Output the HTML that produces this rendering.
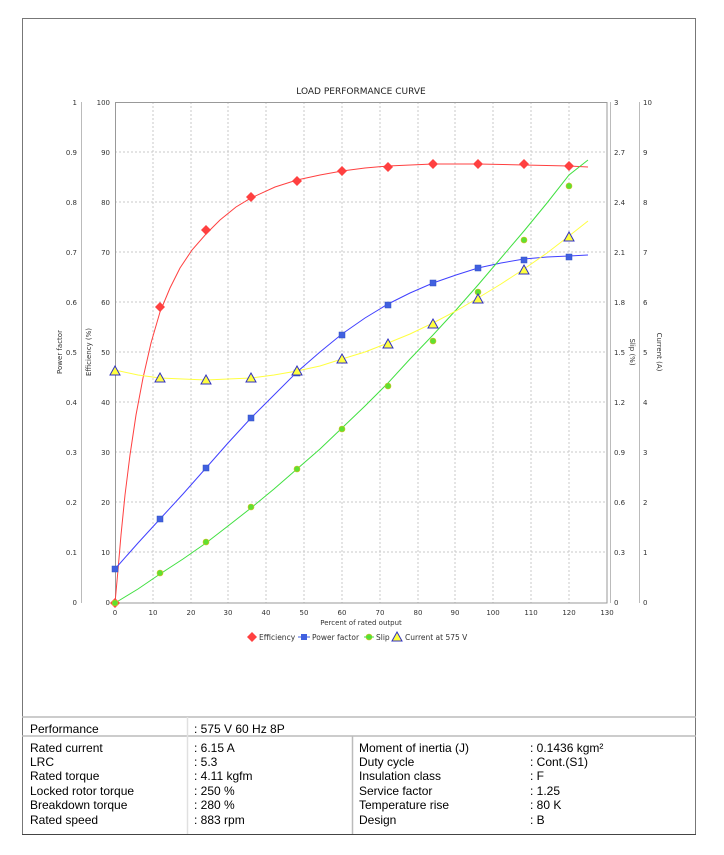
<!DOCTYPE html>
<html><head><meta charset="utf-8"><style>
body{margin:0;background:#fff;}
svg{display:block;font-family:"Liberation Sans","DejaVu Sans",sans-serif;}
</style></head><body>
<svg width="724" height="855" viewBox="0 0 724 855" xmlns="http://www.w3.org/2000/svg">
<rect x="22.5" y="18.5" width="673" height="816" fill="none" stroke="#777" stroke-width="1"/>
<text x="361" y="94" font-size="9" text-anchor="middle" font-family="DejaVu Sans,sans-serif" fill="#222">LOAD PERFORMANCE CURVE</text>
<g stroke="#c8c8c8" stroke-dasharray="2,2" stroke-width="1">
<line x1="153" y1="102" x2="153" y2="603"/><line x1="191" y1="102" x2="191" y2="603"/><line x1="228" y1="102" x2="228" y2="603"/><line x1="266" y1="102" x2="266" y2="603"/><line x1="304" y1="102" x2="304" y2="603"/><line x1="342" y1="102" x2="342" y2="603"/><line x1="380" y1="102" x2="380" y2="603"/><line x1="418" y1="102" x2="418" y2="603"/><line x1="455" y1="102" x2="455" y2="603"/><line x1="493" y1="102" x2="493" y2="603"/><line x1="531" y1="102" x2="531" y2="603"/><line x1="569" y1="102" x2="569" y2="603"/>
<line x1="115" y1="152" x2="607" y2="152"/><line x1="115" y1="202" x2="607" y2="202"/><line x1="115" y1="252" x2="607" y2="252"/><line x1="115" y1="302" x2="607" y2="302"/><line x1="115" y1="352" x2="607" y2="352"/><line x1="115" y1="402" x2="607" y2="402"/><line x1="115" y1="452" x2="607" y2="452"/><line x1="115" y1="502" x2="607" y2="502"/><line x1="115" y1="552" x2="607" y2="552"/>
</g>
<rect x="115.5" y="102.5" width="491.5" height="500.5" fill="none" stroke="#999"/>
<g stroke="#bbb"><line x1="81.5" y1="102" x2="81.5" y2="603"/><line x1="610.5" y1="102" x2="610.5" y2="603"/><line x1="639.5" y1="102" x2="639.5" y2="603"/></g>
<g font-size="7" fill="#333" font-family="DejaVu Sans,sans-serif">
<g text-anchor="end">
<text x="77" y="105">1</text><text x="77" y="155">0.9</text><text x="77" y="205">0.8</text><text x="77" y="255">0.7</text><text x="77" y="305">0.6</text><text x="77" y="355">0.5</text><text x="77" y="405">0.4</text><text x="77" y="455">0.3</text><text x="77" y="505">0.2</text><text x="77" y="555">0.1</text><text x="77" y="605">0</text>
<text x="110" y="105">100</text><text x="110" y="155">90</text><text x="110" y="205">80</text><text x="110" y="255">70</text><text x="110" y="305">60</text><text x="110" y="355">50</text><text x="110" y="405">40</text><text x="110" y="455">30</text><text x="110" y="505">20</text><text x="110" y="555">10</text><text x="110" y="605">0</text>
</g>
<text x="614" y="105">3</text><text x="614" y="155">2.7</text><text x="614" y="205">2.4</text><text x="614" y="255">2.1</text><text x="614" y="305">1.8</text><text x="614" y="355">1.5</text><text x="614" y="405">1.2</text><text x="614" y="455">0.9</text><text x="614" y="505">0.6</text><text x="614" y="555">0.3</text><text x="614" y="605">0</text>
<text x="643" y="105">10</text><text x="643" y="155">9</text><text x="643" y="205">8</text><text x="643" y="255">7</text><text x="643" y="305">6</text><text x="643" y="355">5</text><text x="643" y="405">4</text><text x="643" y="455">3</text><text x="643" y="505">2</text><text x="643" y="555">1</text><text x="643" y="605">0</text>
<g text-anchor="middle">
<text x="115" y="615">0</text><text x="153" y="615">10</text><text x="191" y="615">20</text><text x="228" y="615">30</text><text x="266" y="615">40</text><text x="304" y="615">50</text><text x="342" y="615">60</text><text x="380" y="615">70</text><text x="418" y="615">80</text><text x="455" y="615">90</text><text x="493" y="615">100</text><text x="531" y="615">110</text><text x="569" y="615">120</text><text x="607" y="615">130</text>
</g>
<text x="361" y="625" text-anchor="middle">Percent of rated output</text>
<text transform="translate(62,352) rotate(-90)" text-anchor="middle">Power factor</text>
<text transform="translate(91,352) rotate(-90)" text-anchor="middle">Efficiency (%)</text>
<text transform="translate(630,352) rotate(90)" text-anchor="middle">Slip (%)</text>
<text transform="translate(657,352) rotate(90)" text-anchor="middle">Current (A)</text>
</g>
<!-- curves -->
<polyline fill="none" stroke="#ff4040" stroke-width="1" points="115,603 118,570 121,535 125,495 130,455 136,415 143,378 151,343 160,312 170,288 180,268 192,250 206,234 220,220 236,207 251,198 275,187 297,180 320,175 342,171 365,168 388,166 433,164 478,164 524,165 569,166 588,167"/>
<polyline fill="none" stroke="#4040ff" stroke-width="1" points="115,569 138,543 160,519 183,494 206,468 228,443 251,418 274,395 297,372 320,352 342,334 365,318 388,304 410,293 433,283 456,275 478,268 501,263 524,259 547,257 569,256 588,255"/>
<polyline fill="none" stroke="#40e040" stroke-width="1" points="115,603 138,589 160,574 183,559 206,543 228,526 251,508 274,489 297,469 320,449 342,428 365,406 388,383 410,359 433,335 456,310 478,285 501,258 524,231 547,203 569,175 588,160"/>
<polyline fill="none" stroke="#ffff40" stroke-width="1" points="115,370 138,375 160,378 183,379 206,380 228,379 251,378 274,375 297,371 320,366 342,359 365,352 388,343 410,334 433,323 456,311 478,298 501,284 524,269 547,253 569,236 588,221"/>
<!-- markers -->
<g fill="#ff4040">
<path d="M115 598l5 5-5 5-5-5z"/><path d="M160 302l5 5-5 5-5-5z"/><path d="M206 225l5 5-5 5-5-5z"/><path d="M251 192l5 5-5 5-5-5z"/><path d="M297 176l5 5-5 5-5-5z"/><path d="M342 166l5 5-5 5-5-5z"/><path d="M388 162l5 5-5 5-5-5z"/><path d="M433 159l5 5-5 5-5-5z"/><path d="M478 159l5 5-5 5-5-5z"/><path d="M524 159l5 5-5 5-5-5z"/><path d="M569 161l5 5-5 5-5-5z"/>
</g>
<g fill="#4060e0" stroke="#3050c0" stroke-width="0.5">
<rect x="112" y="566" width="6" height="6"/><rect x="157" y="516" width="6" height="6"/><rect x="203" y="465" width="6" height="6"/><rect x="248" y="415" width="6" height="6"/><rect x="294" y="370" width="6" height="6"/><rect x="339" y="332" width="6" height="6"/><rect x="385" y="302" width="6" height="6"/><rect x="430" y="280" width="6" height="6"/><rect x="475" y="265" width="6" height="6"/><rect x="521" y="257" width="6" height="6"/><rect x="566" y="254" width="6" height="6"/>
</g>
<g fill="#60e030" stroke="#d0c020" stroke-width="0.6">
<circle cx="115" cy="603" r="3"/><circle cx="160" cy="573" r="3"/><circle cx="206" cy="542" r="3"/><circle cx="251" cy="507" r="3"/><circle cx="297" cy="469" r="3"/><circle cx="342" cy="429" r="3"/><circle cx="388" cy="386" r="3"/><circle cx="433" cy="341" r="3"/><circle cx="478" cy="292" r="3"/><circle cx="524" cy="240" r="3"/><circle cx="569" cy="186" r="3"/>
</g>
<g fill="#ffff40" stroke="#3030c0" stroke-width="1">
<path d="M115 366l5 9h-10z"/><path d="M160 373l5 9h-10z"/><path d="M206 375l5 9h-10z"/><path d="M251 373l5 9h-10z"/><path d="M297 366l5 9h-10z"/><path d="M342 354l5 9h-10z"/><path d="M388 339l5 9h-10z"/><path d="M433 319l5 9h-10z"/><path d="M478 294l5 9h-10z"/><path d="M524 265l5 9h-10z"/><path d="M569 232l5 9h-10z"/>
</g>
<!-- legend -->
<g font-size="7.5" fill="#333" font-family="DejaVu Sans,sans-serif">
<path d="M252 632l5 5-5 5-5-5z" fill="#ff4040"/><text x="259" y="640">Efficiency</text>
<rect x="301" y="634" width="6" height="6" fill="#4060e0"/><line x1="298" y1="637" x2="310" y2="637" stroke="#4060e0"/><text x="312" y="640">Power factor</text>
<circle cx="369" cy="637" r="3" fill="#60e030" stroke="#d0c020" stroke-width="0.6"/><line x1="364" y1="637" x2="374" y2="637" stroke="#40e040"/><text x="376" y="640">Slip</text>
<path d="M397 632l5 9h-10z" fill="#ffff40" stroke="#3030c0"/><text x="405" y="640">Current at 575 V</text>
</g>
<!-- table -->
<g stroke="#bbb" stroke-width="1.5">
<line x1="22" y1="717" x2="696" y2="717"/><line x1="22" y1="736" x2="696" y2="736"/>
<line x1="187.5" y1="717" x2="187.5" y2="834" stroke="#e0e0e0"/>
<line x1="352.5" y1="736" x2="352.5" y2="834"/>
</g>
<line x1="22" y1="834.5" x2="696" y2="834.5" stroke="#444"/>
<g font-size="12" fill="#000">
<text x="30" y="733">Performance</text><text x="194" y="733">: 575 V 60 Hz 8P</text>
<text x="30" y="752">Rated current</text><text x="194" y="752">: 6.15 A</text>
<text x="30" y="766">LRC</text><text x="194" y="766">: 5.3</text>
<text x="30" y="780">Rated torque</text><text x="194" y="780">: 4.11 kgfm</text>
<text x="30" y="795">Locked rotor torque</text><text x="194" y="795">: 250 %</text>
<text x="30" y="809">Breakdown torque</text><text x="194" y="809">: 280 %</text>
<text x="30" y="824">Rated speed</text><text x="194" y="824">: 883 rpm</text>
<text x="359" y="752">Moment of inertia (J)</text><text x="530" y="752">: 0.1436 kgm²</text>
<text x="359" y="766">Duty cycle</text><text x="530" y="766">: Cont.(S1)</text>
<text x="359" y="780">Insulation class</text><text x="530" y="780">: F</text>
<text x="359" y="795">Service factor</text><text x="530" y="795">: 1.25</text>
<text x="359" y="809">Temperature rise</text><text x="530" y="809">: 80 K</text>
<text x="359" y="824">Design</text><text x="530" y="824">: B</text>
</g>
</svg>
</body></html>
